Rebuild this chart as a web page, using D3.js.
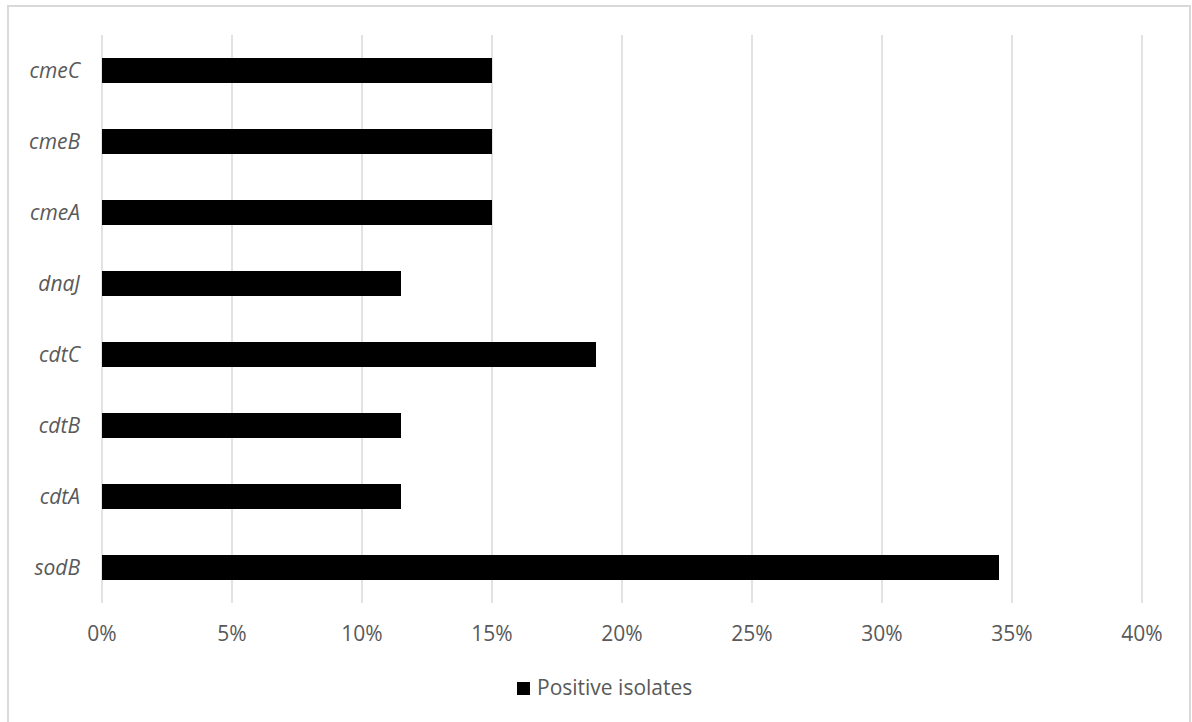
<!DOCTYPE html>
<html>
<head>
<meta charset="utf-8">
<script src="https://cdn.jsdelivr.net/npm/d3@7"></script>
<style>
  html, body { margin: 0; padding: 0; background: #fff; }
  svg { display: block; }
  text { font-family: "Open Sans", "Liberation Sans", sans-serif; fill: #595959; }
</style>
</head>
<body>
<script>
// Genes, listed bottom-to-top as on the category axis
const genes = ["sodB", "cdtA", "cdtB", "cdtC", "dnaJ", "cmeA", "cmeB", "cmeC"];
// Share of positive isolates per gene (%)
const positive = [34.5, 11.5, 11.5, 19, 11.5, 15, 15, 15];
// Value-axis ticks (%)
const ticks = [0, 5, 10, 15, 20, 25, 30, 35, 40];
const seriesName = "Positive isolates";

const W = 1192, H = 722;
const plot = { left: 102, right: 1142, top: 35, bottom: 603 };
const fontSize = 21;

const svg = d3.select("body").append("svg")
  .attr("width", W).attr("height", H);

// chart frame
svg.append("rect")
  .attr("x", 8).attr("y", 6)
  .attr("width", 1182).attr("height", 722)
  .attr("fill", "#fff")
  .attr("stroke", "#d9d9d9").attr("stroke-width", 2);

const x = d3.scaleLinear().domain([0, 40]).range([plot.left, plot.right]);
const y = d3.scaleBand()
  .domain(genes.slice().reverse())
  .range([plot.top, plot.bottom])
  .paddingInner(0.648).paddingOuter(0.324);

// vertical gridlines
svg.append("g").selectAll("line").data(ticks).join("line")
  .attr("x1", d => x(d)).attr("x2", d => x(d))
  .attr("y1", plot.top).attr("y2", plot.bottom)
  .attr("stroke", "#d9d9d9").attr("stroke-width", 1.5);

// bars
svg.append("g").selectAll("rect").data(genes).join("rect")
  .attr("x", x(0))
  .attr("y", d => y(d))
  .attr("width", (d, i) => x(positive[i]) - x(0))
  .attr("height", y.bandwidth())
  .attr("fill", "#000");

// category labels (italic gene names)
svg.append("g").selectAll("text").data(genes).join("text")
  .attr("x", 80)
  .attr("y", d => y(d) + y.bandwidth() / 2 + 7.5)
  .attr("text-anchor", "end")
  .attr("font-style", "italic")
  .attr("font-size", fontSize)
  .text(d => d);

// value-axis tick labels
svg.append("g").selectAll("text").data(ticks).join("text")
  .attr("x", d => x(d))
  .attr("y", 641)
  .attr("text-anchor", "middle")
  .attr("font-size", fontSize)
  .text(d => d3.format("d")(d) + "%");

// legend
const lg = svg.append("g");
lg.append("rect")
  .attr("x", 517).attr("y", 682)
  .attr("width", 13).attr("height", 13)
  .attr("fill", "#000");
lg.append("text")
  .attr("x", 537).attr("y", 695)
  .attr("font-size", fontSize)
  .text(seriesName);
</script>
</body>
</html>
